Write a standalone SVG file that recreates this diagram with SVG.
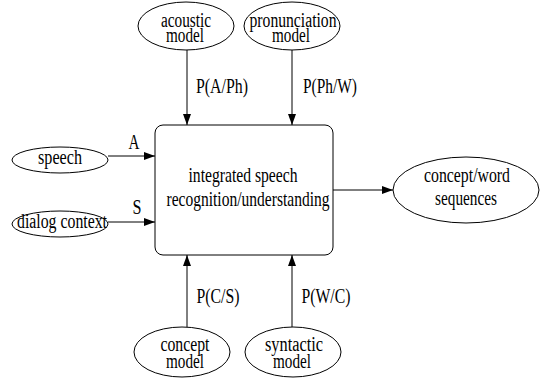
<svg xmlns="http://www.w3.org/2000/svg" width="542" height="382" viewBox="0 0 542 382">
<style>
.n{fill:#fff;stroke:#000;stroke-width:1}
.t{font-family:"Liberation Serif","Times New Roman",serif;font-size:21px;fill:#000;text-anchor:middle}
.e{font-size:20px}
.c{stroke:#000;stroke-width:1;fill:none;marker-end:url(#ah)}
</style>
<defs>
<marker id="ah" markerUnits="userSpaceOnUse" markerWidth="11" markerHeight="8" refX="11" refY="4" orient="auto">
<path d="M0,0 L11,4 L0,8 Z" fill="#000"/>
</marker>
</defs>
<rect width="542" height="382" fill="#fff"/>
<g id="connectors">
<line class="c" x1="187" y1="50" x2="187" y2="125"/>
<line class="c" x1="292" y1="50" x2="292" y2="125"/>
<line class="c" x1="108" y1="156" x2="155" y2="156"/>
<line class="c" x1="108" y1="222" x2="155" y2="222"/>
<line class="c" x1="333" y1="190" x2="393" y2="190"/>
<line class="c" x1="187" y1="327" x2="187" y2="255"/>
<line class="c" x1="292" y1="327" x2="292" y2="255"/>
<text class="t" x="222" y="93" textLength="52" lengthAdjust="spacingAndGlyphs">P(A/Ph)</text>
<text class="t" x="330" y="93" textLength="54" lengthAdjust="spacingAndGlyphs">P(Ph/W)</text>
<text class="t" x="134" y="149" textLength="11" lengthAdjust="spacingAndGlyphs">A</text>
<text class="t" x="137" y="214" textLength="9" lengthAdjust="spacingAndGlyphs">S</text>
<text class="t" x="218" y="303" textLength="43" lengthAdjust="spacingAndGlyphs">P(C/S)</text>
<text class="t" x="326" y="303" textLength="49" lengthAdjust="spacingAndGlyphs">P(W/C)</text>
</g>
<g id="acoustic">
<ellipse class="n" cx="186" cy="26" rx="48" ry="24"/>
<text class="t e" x="186" y="27" textLength="50" lengthAdjust="spacingAndGlyphs">acoustic</text>
<text class="t e" x="185" y="42" textLength="38" lengthAdjust="spacingAndGlyphs">model</text>
</g>
<g id="pronunciation">
<ellipse class="n" cx="292" cy="26" rx="48" ry="24"/>
<text class="t e" x="293" y="27" textLength="87" lengthAdjust="spacingAndGlyphs">pronunciation</text>
<text class="t e" x="291" y="42" textLength="38" lengthAdjust="spacingAndGlyphs">model</text>
</g>
<g id="speech">
<ellipse class="n" cx="60" cy="160" rx="48" ry="13"/>
<text class="t e" x="60" y="164" textLength="44" lengthAdjust="spacingAndGlyphs">speech</text>
</g>
<g id="dialog">
<ellipse class="n" cx="60" cy="224" rx="48" ry="13"/>
<text class="t e" x="62" y="228" textLength="90" lengthAdjust="spacingAndGlyphs">dialog context</text>
</g>
<g id="main">
<rect class="n" x="155" y="125" width="178" height="130" rx="8"/>
<text class="t" x="243" y="182" textLength="109" lengthAdjust="spacingAndGlyphs">integrated speech</text>
<text class="t" x="248" y="206" textLength="163" lengthAdjust="spacingAndGlyphs">recognition/understanding</text>
</g>
<g id="output">
<ellipse class="n" cx="466" cy="190" rx="73" ry="33"/>
<text class="t" x="467" y="182" textLength="86" lengthAdjust="spacingAndGlyphs">concept/word</text>
<text class="t" x="466" y="205" textLength="62" lengthAdjust="spacingAndGlyphs">sequences</text>
</g>
<g id="concept">
<ellipse class="n" cx="182" cy="352" rx="48" ry="25"/>
<text class="t e" x="185" y="351" textLength="49" lengthAdjust="spacingAndGlyphs">concept</text>
<text class="t e" x="185" y="368" textLength="38" lengthAdjust="spacingAndGlyphs">model</text>
</g>
<g id="syntactic">
<ellipse class="n" cx="293" cy="352" rx="48" ry="25"/>
<text class="t e" x="294" y="351" textLength="58" lengthAdjust="spacingAndGlyphs">syntactic</text>
<text class="t e" x="292" y="368" textLength="38" lengthAdjust="spacingAndGlyphs">model</text>
</g>
</svg>
